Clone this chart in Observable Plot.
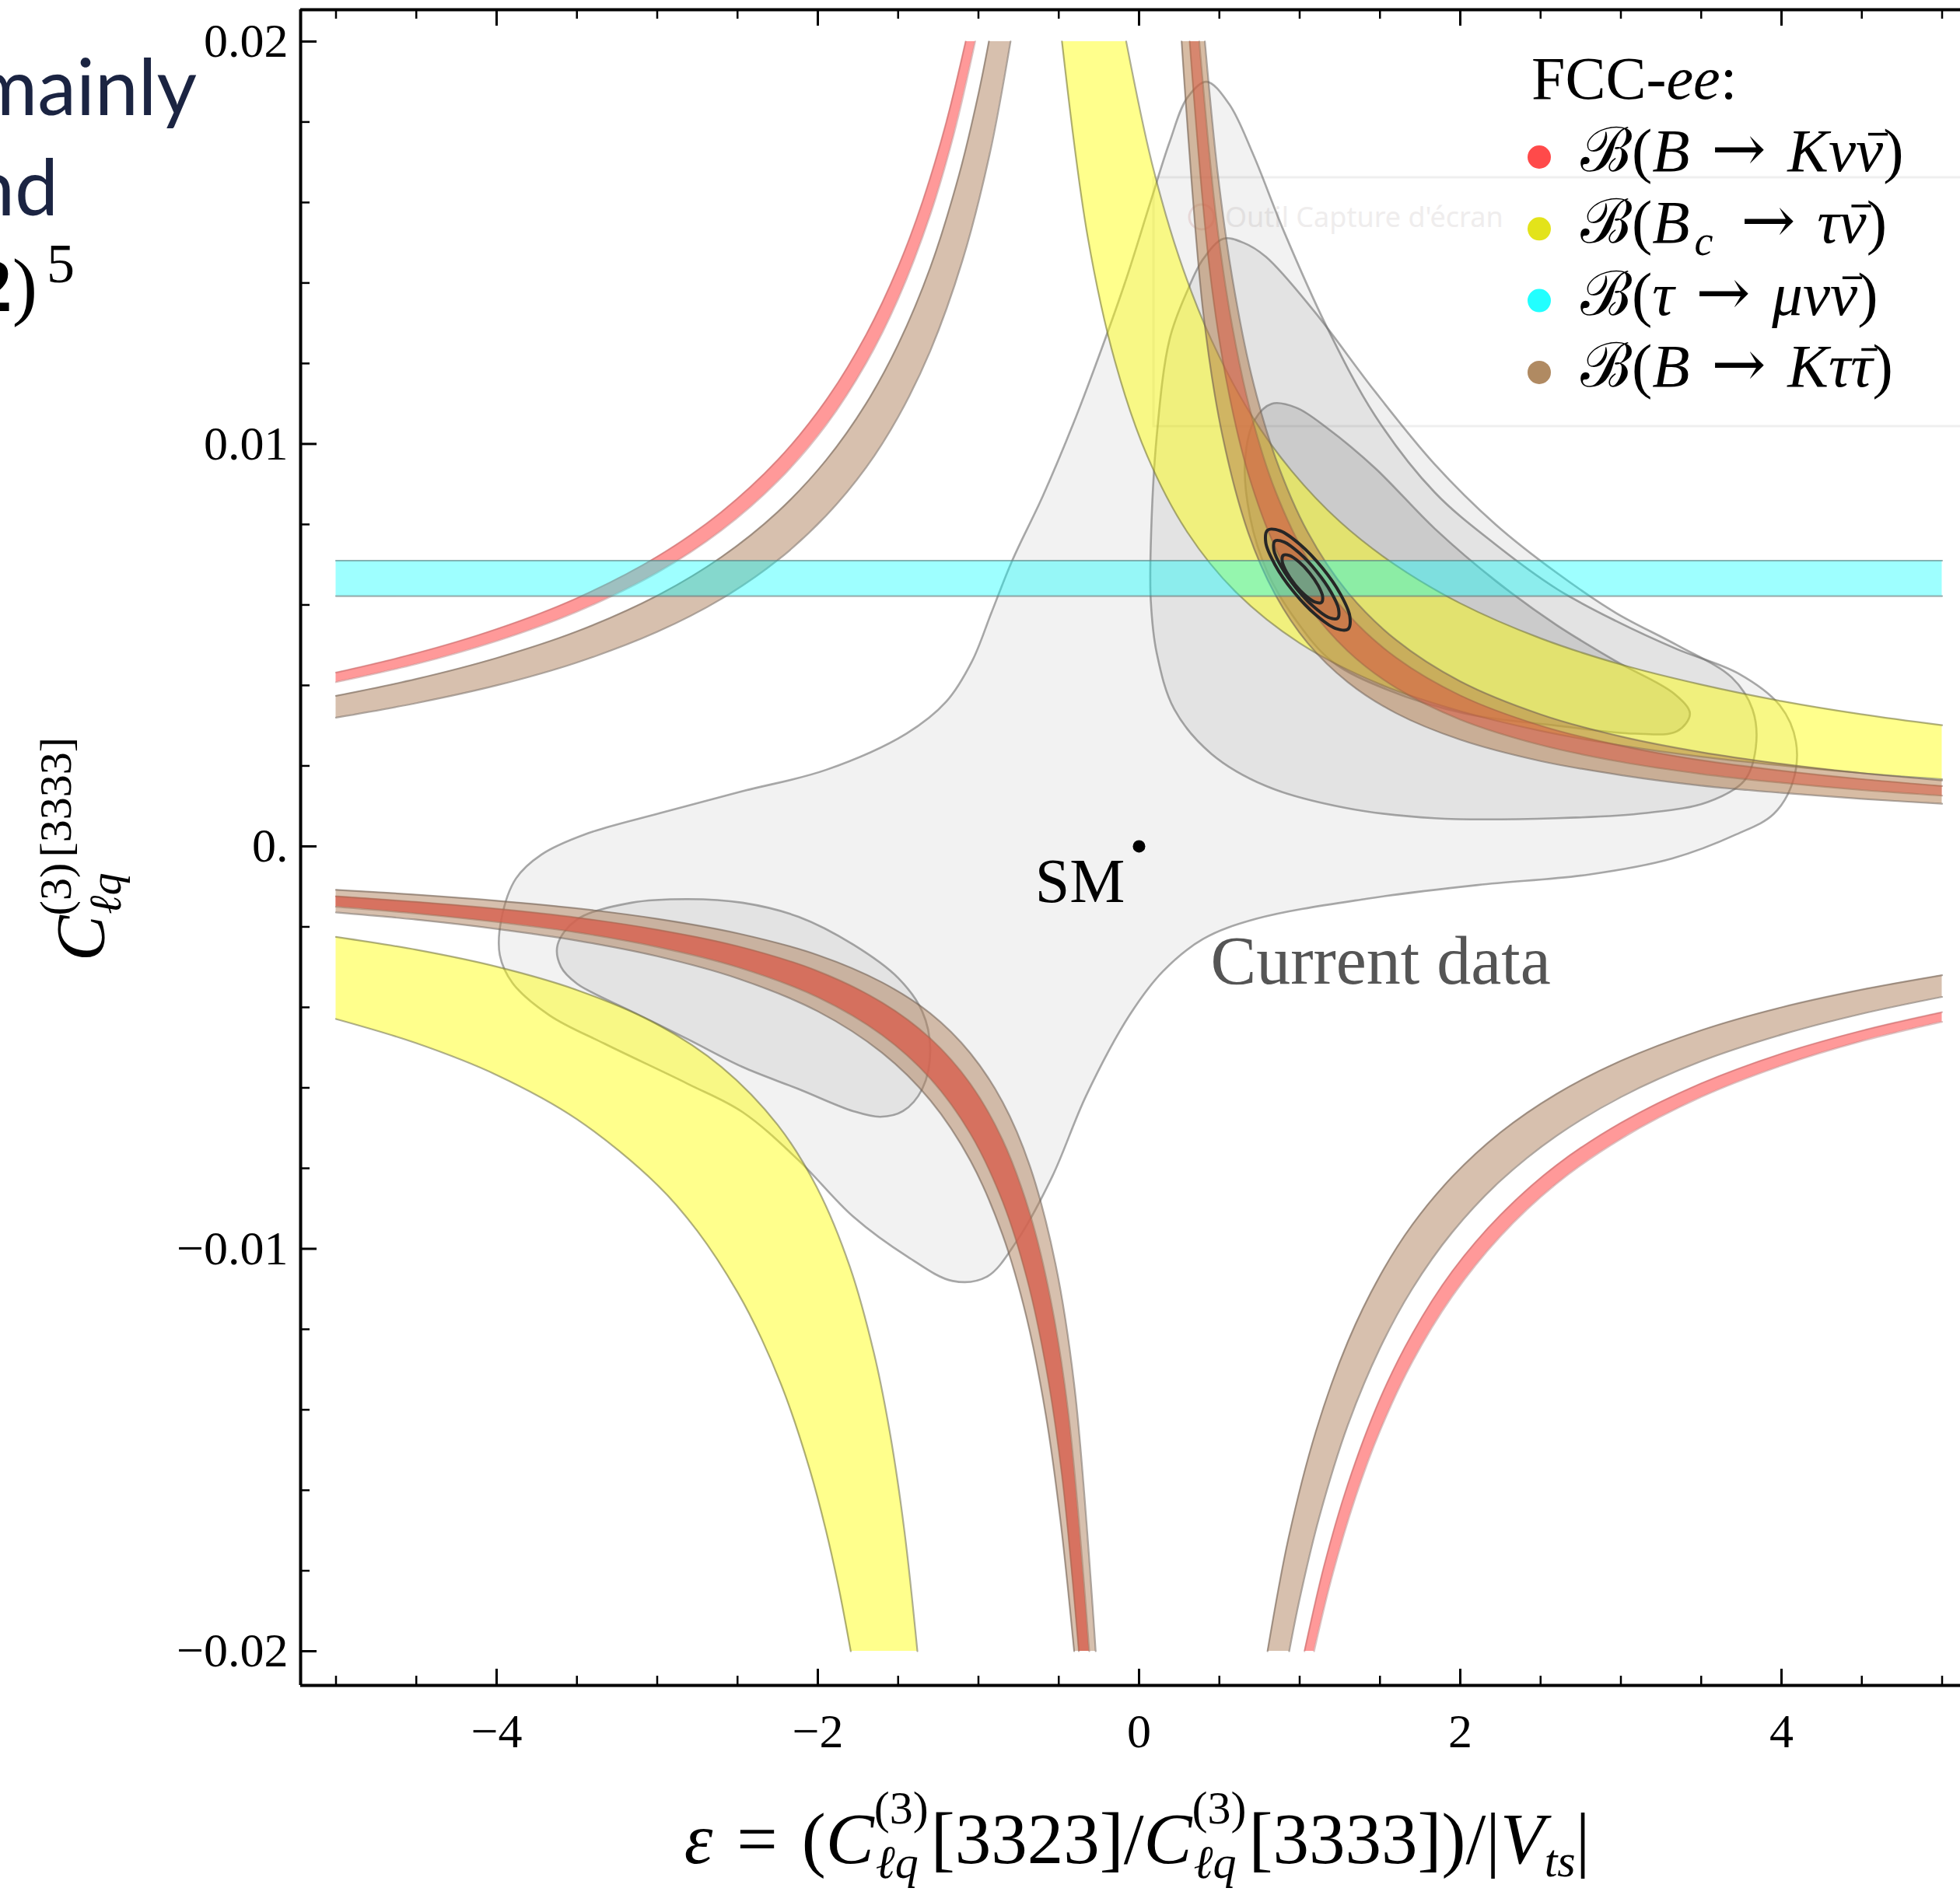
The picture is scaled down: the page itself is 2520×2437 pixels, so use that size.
<!DOCTYPE html>
<html><head><meta charset="utf-8">
<script src="https://cdn.jsdelivr.net/npm/d3@7"></script>
<script src="https://cdn.jsdelivr.net/npm/@observablehq/plot@0.6"></script>
<style>html,body{margin:0;padding:0;background:#fff;overflow:hidden}</style>
</head><body><div id="chart"></div>
<script>
// ---------- axes / ticks ----------
const frameX = [-5.2203, 5.1138];
const frameY = [-0.02085, 0.02079];
const xMajorTicks = [-4, -2, 0, 2, 4];
const xTickLabels = ["−4", "−2", "0", "2", "4"];
const xMinorTicks = [-5, -4.5, -3.5, -3, -2.5, -1.5, -1, -0.5, 0.5, 1, 1.5, 2.5, 3, 3.5, 4.5, 5];
const yMajorTicks = [-0.02, -0.01, 0, 0.01, 0.02];
const yTickLabels = ["−0.02", "−0.01", "0.", "0.01", "0.02"];
const yMinorTicks = [-0.018, -0.016, -0.014, -0.012, -0.008, -0.006, -0.004, -0.002, 0.002, 0.004, 0.006, 0.008, 0.012, 0.014, 0.016, 0.018];

// ---------- B -> K nu nubar (red) band edges ----------
const redUL_A = [[-5,0.00432],[-4.5,0.0048],[-4,0.0054],[-3.5,0.00617],[-3,0.0072],[-2.6,0.00831],[-2.25,0.0096],[-1.95,0.01108],[-1.7,0.01271],[-1.5,0.0144],[-1.35,0.016],[-1.2,0.018],[-1.08,0.02]];
const redUL_B = [[-5,0.00408],[-4.5,0.00453],[-4,0.0051],[-3.5,0.00583],[-3,0.0068],[-2.6,0.00785],[-2.25,0.00907],[-1.95,0.01046],[-1.7,0.012],[-1.5,0.0136],[-1.3,0.01569],[-1.15,0.01774],[-1.02,0.02]];
const redLR_A = [[5,-0.00436],[4.5,-0.00484],[4,-0.00545],[3.5,-0.00623],[3,-0.00727],[2.6,-0.00838],[2.25,-0.00969],[1.95,-0.01118],[1.7,-0.01282],[1.5,-0.01453],[1.35,-0.01615],[1.2,-0.01817],[1.09,-0.02]];
const redLR_B = [[5,-0.00412],[4.5,-0.00458],[4,-0.00515],[3.5,-0.00589],[3,-0.00687],[2.6,-0.00792],[2.25,-0.00916],[1.95,-0.01056],[1.7,-0.01212],[1.5,-0.01373],[1.3,-0.01585],[1.15,-0.01791],[1.03,-0.02]];
const redUR_A = [[5,0.0015],[4.5,0.00167],[4,0.00188],[3.5,0.00214],[3,0.0025],[2.5,0.003],[2,0.00375],[1.6,0.00469],[1.3,0.00577],[1.05,0.00714],[0.85,0.00882],[0.7,0.01071],[0.58,0.01293],[0.48,0.01563],[0.375,0.02]];
const redUR_B = [[5,0.00126],[4.5,0.0014],[4,0.00158],[3.5,0.0018],[3,0.0021],[2.5,0.00252],[2,0.00315],[1.6,0.00394],[1.3,0.00485],[1.05,0.006],[0.85,0.00741],[0.68,0.00926],[0.55,0.01145],[0.44,0.01432],[0.315,0.02]];
const redLL_A = [[-5,-0.0015],[-4.5,-0.00167],[-4,-0.00188],[-3.5,-0.00214],[-3,-0.0025],[-2.5,-0.003],[-2,-0.00375],[-1.6,-0.00469],[-1.3,-0.00577],[-1.05,-0.00714],[-0.85,-0.00882],[-0.7,-0.01071],[-0.58,-0.01293],[-0.48,-0.01563],[-0.375,-0.02]];
const redLL_B = [[-5,-0.00124],[-4.5,-0.00138],[-4,-0.00155],[-3.5,-0.00177],[-3,-0.00207],[-2.5,-0.00248],[-2,-0.0031],[-1.6,-0.00388],[-1.3,-0.00477],[-1.05,-0.0059],[-0.85,-0.00729],[-0.68,-0.00912],[-0.55,-0.01127],[-0.44,-0.01409],[-0.31,-0.02]];

// ---------- B -> K tau taubar (brown) band edges ----------
const brownUL_A = [[-5,0.00374],[-4.5,0.00416],[-4,0.00468],[-3.5,0.00534],[-3,0.00623],[-2.6,0.00719],[-2.25,0.00831],[-1.95,0.00959],[-1.7,0.011],[-1.5,0.01247],[-1.3,0.01438],[-1.12,0.0167],[-1.0,0.0187],[-0.935,0.02]];
const brownUL_B = [[-5,0.0032],[-4.5,0.00356],[-4,0.004],[-3.5,0.00457],[-3,0.00533],[-2.6,0.00615],[-2.25,0.00711],[-1.95,0.00821],[-1.7,0.00941],[-1.5,0.01067],[-1.3,0.01231],[-1.1,0.01455],[-0.93,0.0172],[-0.8,0.02]];
const brownLR_A = [[5,-0.00374],[4.5,-0.00416],[4,-0.00468],[3.5,-0.00534],[3,-0.00623],[2.6,-0.00719],[2.25,-0.00831],[1.95,-0.00959],[1.7,-0.011],[1.5,-0.01247],[1.3,-0.01438],[1.12,-0.0167],[1.0,-0.0187],[0.935,-0.02]];
const brownLR_B = [[5,-0.0032],[4.5,-0.00356],[4,-0.004],[3.5,-0.00457],[3,-0.00533],[2.6,-0.00615],[2.25,-0.00711],[1.95,-0.00821],[1.7,-0.00941],[1.5,-0.01067],[1.3,-0.01231],[1.1,-0.01455],[0.93,-0.0172],[0.8,-0.02]];
const brownUR_A = [[5,0.00164],[4.5,0.00182],[4,0.00205],[3.5,0.00234],[3,0.00273],[2.5,0.00328],[2,0.0041],[1.6,0.00513],[1.3,0.00631],[1.05,0.00781],[0.85,0.00965],[0.7,0.01171],[0.58,0.01414],[0.49,0.01673],[0.41,0.02]];
const brownUR_B = [[5,0.00106],[4.5,0.00118],[4,0.00133],[3.5,0.00151],[3,0.00177],[2.5,0.00212],[2,0.00265],[1.6,0.00331],[1.3,0.00408],[1.05,0.00505],[0.85,0.00624],[0.68,0.00779],[0.52,0.01019],[0.4,0.01325],[0.265,0.02]];
const brownLL_A = [[-5,-0.00164],[-4.5,-0.00182],[-4,-0.00205],[-3.5,-0.00234],[-3,-0.00273],[-2.5,-0.00328],[-2,-0.0041],[-1.6,-0.00513],[-1.3,-0.00631],[-1.05,-0.00781],[-0.85,-0.00965],[-0.7,-0.01171],[-0.58,-0.01414],[-0.49,-0.01673],[-0.404,-0.02]];
const brownLL_B = [[-5,-0.00108],[-4.5,-0.0012],[-4,-0.00135],[-3.5,-0.00154],[-3,-0.0018],[-2.5,-0.00216],[-2,-0.0027],[-1.6,-0.00338],[-1.3,-0.00415],[-1.05,-0.00514],[-0.85,-0.00635],[-0.68,-0.00794],[-0.52,-0.01038],[-0.4,-0.0135],[-0.27,-0.02]];

// ---------- B_c -> tau nubar (yellow) band edges ----------
const yellowUR_A = [[5,0.00301],[4.5,0.00328],[4,0.00361],[3.5,0.00402],[3,0.00452],[2.5,0.00517],[2,0.00604],[1.6,0.00698],[1.25,0.00807],[0.95,0.00933],[0.7,0.01071],[0.45,0.01259],[0.25,0.01463],[0.08,0.01698],[-0.08,0.02]];
const yellowUR_B = [[5,0.00167],[4.5,0.00182],[4,0.00201],[3.5,0.00223],[3,0.00251],[2.5,0.00287],[2,0.00336],[1.5,0.00403],[1.0,0.00505],[0.6,0.00633],[0.3,0.00781],[0.05,0.00971],[-0.15,0.01205],[-0.32,0.01515],[-0.48,0.02]];
const yellowLL_A = [[-5,-0.00225],[-4.5,-0.00257],[-4,-0.00299],[-3.5,-0.00357],[-3,-0.00442],[-2.6,-0.00548],[-2.25,-0.00692],[-2.0,-0.00852],[-1.8,-0.01045],[-1.65,-0.0126],[-1.55,-0.0146],[-1.46,-0.01704],[-1.38,-0.02]];
const yellowLL_B = [[-5,-0.00429],[-4.5,-0.00489],[-4,-0.00568],[-3.5,-0.00678],[-3,-0.00841],[-2.75,-0.00956],[-2.5,-0.01108],[-2.35,-0.01224],[-2.2,-0.01367],[-2.05,-0.01549],[-1.95,-0.01699],[-1.87,-0.01842],[-1.795,-0.02]];

// ---------- tau -> mu nu nubar (cyan) band ----------
const cyan_A = [[-5,0.0071],[5,0.0071]];
const cyan_B = [[-5,0.00622],[5,0.00622]];

// ---------- current data (gray) contours ----------
const currentOuter = [[0.42,0.019],[0.30,0.0186],[0.19,0.0175],[0.07,0.016],[-0.08,0.0141],[-0.23,0.0124],[-0.41,0.0105],[-0.60,0.0087],[-0.79,0.0071],[-0.92,0.0058],[-1.04,0.0046],[-1.20,0.0036],[-1.45,0.0028],[-1.95,0.0019],[-2.47,0.00137],[-2.98,0.00083],[-3.45,0.0003],[-3.72,-0.0002],[-3.88,-0.0008],[-3.97,-0.0018],[-3.98,-0.0027],[-3.90,-0.0034],[-3.67,-0.0042],[-3.33,-0.0049],[-2.81,-0.0059],[-2.47,-0.0066],[-2.12,-0.0078],[-1.78,-0.0092],[-1.44,-0.0102],[-1.16,-0.0108],[-0.95,-0.0107],[-0.76,-0.0098],[-0.54,-0.0082],[-0.33,-0.0062],[-0.06,-0.0042],[0.15,-0.0031],[0.40,-0.0023],[0.73,-0.0018],[1.42,-0.0013],[2.11,-0.00096],[2.80,-0.0007],[3.32,-0.0003],[3.72,0.0003],[3.95,0.0008],[4.07,0.0016],[4.09,0.0026],[3.99,0.0035],[3.73,0.0043],[3.35,0.0049],[2.97,0.0056],[2.60,0.0064],[2.22,0.0075],[1.84,0.0088],[1.47,0.0107],[1.17,0.0129],[0.90,0.0153],[0.71,0.0172],[0.56,0.01845]];
const currentMidUR = [[0.525,0.0151],[0.40,0.0146],[0.30,0.0138],[0.19,0.0126],[0.11,0.0102],[0.073,0.0075],[0.073,0.0061],[0.11,0.0048],[0.22,0.0034],[0.45,0.0023],[0.79,0.0015],[1.28,0.00096],[1.84,0.0007],[2.60,0.0007],[3.16,0.00083],[3.54,0.0011],[3.77,0.00164],[3.84,0.00245],[3.82,0.0034],[3.69,0.0042],[3.35,0.005],[2.97,0.0058],[2.60,0.0068],[2.22,0.008],[1.84,0.0095],[1.47,0.0113],[1.09,0.0133],[0.79,0.01465],[0.65,0.015]];
const currentMidLL = [[-3.62,-0.00244],[-3.50,-0.00182],[-3.16,-0.0014],[-2.81,-0.00131],[-2.47,-0.0014],[-2.12,-0.00175],[-1.78,-0.00244],[-1.50,-0.00327],[-1.35,-0.0041],[-1.30,-0.00506],[-1.35,-0.00603],[-1.47,-0.00658],[-1.61,-0.00672],[-1.78,-0.00658],[-2.12,-0.00603],[-2.47,-0.00548],[-2.81,-0.00479],[-3.16,-0.0041],[-3.50,-0.00341],[-3.60,-0.00299]];
const currentInnerUR = [[0.826,0.011],[0.72,0.0106],[0.66,0.0096],[0.69,0.0082],[0.80,0.0068],[0.98,0.0056],[1.20,0.0046],[1.54,0.0039],[2.03,0.0033],[2.60,0.003],[3.09,0.0028],[3.35,0.00286],[3.43,0.0033],[3.33,0.0038],[2.97,0.0046],[2.60,0.0055],[2.22,0.0066],[1.84,0.0079],[1.47,0.0094],[1.17,0.0104],[0.98,0.0109]];

// ---------- FCC-ee projected contours (black) ----------
const fccOuter = [[1.301,0.005398],[1.3126,0.005709],[1.254,0.006266],[1.141,0.00692],[1.0038,0.007496],[0.8792,0.007839],[0.8006,0.007858],[0.789,0.007547],[0.8476,0.00699],[0.9606,0.006336],[1.0978,0.00576],[1.2224,0.005417]];
const fccMid = [[1.2363,0.005668],[1.2421,0.005901],[1.194,0.006327],[1.1049,0.006835],[0.9986,0.007287],[0.9039,0.007563],[0.8457,0.007588],[0.8399,0.007355],[0.888,0.006929],[0.9771,0.006421],[1.0834,0.005969],[1.1781,0.005693]];
const fccInner = [[1.136,0.006062],[1.1427,0.006213],[1.1156,0.00648],[1.0621,0.006793],[0.9966,0.007066],[0.9365,0.007227],[0.898,0.007232],[0.8913,0.007081],[0.9184,0.006814],[0.9719,0.006501],[1.0374,0.006228],[1.0975,0.006067]];

// ---------- points & labels ----------
const smPoint = [[0, 0]];
const currentLabelPos = [[0.4455, -0.00342]];
const legendTitle = [{t: "FCC-"}, {t: "ee", i: 1}, {t: ":"}];
const legendColors = ["#ff4a4a", "#e3e31a", "#22ffff", "#b08a62"];
const ARROW = {t: "\u2004→\u2004", f: "'DejaVu Serif',serif", fs: 84};
// o: 1 marks a barred symbol (antiparticle)
const legendEntries = [
  [{t: "ℬ"}, {t: "("}, {t: "B", i: 1}, ARROW, {t: "Kν", i: 1}, {t: "ν", i: 1, o: 1}, {t: ")"}],
  [{t: "ℬ"}, {t: "("}, {t: "B", i: 1}, {t: "c", i: 1, fs: 54, dy: 16, dx: 6}, {...ARROW, dy: -16, dx: 8}, {t: "τ", i: 1}, {t: "ν", i: 1, o: 1}, {t: ")"}],
  [{t: "ℬ"}, {t: "("}, {t: "τ", i: 1}, ARROW, {t: "μν", i: 1}, {t: "ν", i: 1, o: 1}, {t: ")"}],
  [{t: "ℬ"}, {t: "("}, {t: "B", i: 1}, ARROW, {t: "Kτ", i: 1}, {t: "τ", i: 1, o: 1}, {t: ")"}]
];

const serif = "'Liberation Serif','Times New Roman','DejaVu Serif',serif";
const W = 2520, H = 2437, mL = 386, mR = 0, mT = 12, mB = 270;
const frameW = W - mL - mR, frameH = H - mT - mB;

const pair = (a, b) => a.map((p, i) => ({x1: p[0], y1: p[1], x2: b[i][0], y2: b[i][1]}));
function band(a, b, fill, fo, stroke, so) {
  return [
    Plot.area(pair(a, b), {x1: "x1", y1: "y1", x2: "x2", y2: "y2", fill, fillOpacity: fo, curve: "catmull-rom"}),
    Plot.line(a, {x: d => d[0], y: d => d[1], stroke, strokeOpacity: so, strokeWidth: 2.2, curve: "catmull-rom"}),
    Plot.line(b, {x: d => d[0], y: d => d[1], stroke, strokeOpacity: so, strokeWidth: 2.2, curve: "catmull-rom"})
  ];
}
const region = (pts, op) => Plot.line(pts, {x: d => d[0], y: d => d[1], curve: "catmull-rom-closed", fill: "#000", fillOpacity: op, stroke: "#6f6f6f", strokeOpacity: 0.6, strokeWidth: 2.6});
const fcc = (pts) => Plot.line(pts, {x: d => d[0], y: d => d[1], curve: "catmull-rom-closed", fill: "#000", fillOpacity: 0.03, stroke: "#262626", strokeWidth: 4});

const chart = Plot.plot({
  width: W, height: H,
  marginLeft: mL, marginRight: mR, marginTop: mT, marginBottom: mB,
  x: {domain: frameX},
  y: {domain: frameY},
  style: {fontFamily: serif, background: "white", color: "black"},
  marks: [
    region(currentOuter, 0.052),
    region(currentMidUR, 0.058),
    region(currentMidLL, 0.058),
    region(currentInnerUR, 0.10),
    band(yellowUR_A, yellowUR_B, "#ffff00", 0.45, "#6b6b40", 0.55),
    band(yellowLL_A, yellowLL_B, "#ffff00", 0.45, "#6b6b40", 0.55),
    band(redUL_A, redUL_B, "#ff3c3c", 0.52, "#a05050", 0.35),
    band(redLR_A, redLR_B, "#ff3c3c", 0.52, "#a05050", 0.35),
    band(redUR_A, redUR_B, "#ff3c3c", 0.55, "#7a4a40", 0.45),
    band(redLL_A, redLL_B, "#ff3c3c", 0.8, "#7a4a40", 0.45),
    band(brownUL_A, brownUL_B, "#b0825e", 0.5, "#6e5e54", 0.55),
    band(brownLR_A, brownLR_B, "#b0825e", 0.5, "#6e5e54", 0.55),
    band(brownUR_A, brownUR_B, "#b07a4a", 0.5, "#6e5e54", 0.55),
    band(brownLL_A, brownLL_B, "#b0825e", 0.5, "#6e5e54", 0.55),
    band(cyan_A, cyan_B, "#00ffff", 0.38, "#5f7f7f", 0.6),
    fcc(fccOuter), fcc(fccMid), fcc(fccInner),
    Plot.dot(smPoint, {x: d => d[0], y: d => d[1], r: 8, fill: "black", stroke: "none"}),
    Plot.text(smPoint, {x: d => d[0], y: d => d[1], text: () => "SM", dx: -18, dy: 72, textAnchor: "end", lineAnchor: "bottom", fontSize: 80, fill: "black"}),
    Plot.text(currentLabelPos, {x: d => d[0], y: d => d[1], text: () => "Current data", textAnchor: "start", lineAnchor: "bottom", fontSize: 88, fill: "#555"}),
    // frame
    Plot.ruleX([frameX[0]], {stroke: "black", strokeWidth: 4}),
    Plot.ruleY([frameY[0], frameY[1]], {stroke: "black", strokeWidth: 4}),
    // ticks (inward)
    Plot.ruleX(xMajorTicks, {insetTop: frameH - 21, stroke: "black", strokeWidth: 3}),
    Plot.ruleX(xMajorTicks, {insetBottom: frameH - 21, stroke: "black", strokeWidth: 3}),
    Plot.ruleX(xMinorTicks, {insetTop: frameH - 12, stroke: "black", strokeWidth: 2.5}),
    Plot.ruleX(xMinorTicks, {insetBottom: frameH - 12, stroke: "black", strokeWidth: 2.5}),
    Plot.ruleY(yMajorTicks, {insetRight: frameW - 21, stroke: "black", strokeWidth: 3}),
    Plot.ruleY(yMinorTicks, {insetRight: frameW - 12, stroke: "black", strokeWidth: 2.5}),
    Plot.axisX(xMajorTicks, {anchor: "bottom", tickSize: 0, tickPadding: 35, fontSize: 62, label: null, tickFormat: d => xTickLabels[xMajorTicks.indexOf(d)]}),
    Plot.axisY(yMajorTicks, {anchor: "left", tickSize: 0, tickPadding: 16, fontSize: 62, label: null, tickFormat: d => yTickLabels[yMajorTicks.indexOf(d)]})
  ]
});
document.getElementById("chart").appendChild(chart);

const svg = d3.select(chart);

// faint screen-capture overlay (under everything)
const under = svg.insert("g", ":first-child");
under.append("rect").attr("x", 0).attr("y", 0).attr("width", W).attr("height", H).attr("fill", "white");
under.append("path").attr("d", "M2520,228H1483V548H2520").attr("fill", "none").attr("stroke", "#efefef").attr("stroke-width", 3);
under.append("circle").attr("cx", 1545).attr("cy", 279).attr("r", 16).attr("fill", "none").attr("stroke", "#f4e4e4").attr("stroke-width", 3);
under.append("text").attr("x", 1575).attr("y", 292).attr("text-anchor", "start").attr("font-family", "'Noto Sans',sans-serif").attr("font-size", 36).attr("fill", "#efeded").text("Outil Capture d'écran");

function rich(x, y, size, segs, opts = {}) {
  const t = svg.append("text").attr("x", x).attr("y", y).attr("font-size", size)
    .attr("font-family", opts.family || serif).attr("fill", opts.fill || "#000")
    .attr("text-anchor", opts.anchor || "start").style("white-space", "pre");
  if (opts.transform) t.attr("transform", opts.transform);
  const barred = [];
  for (const s of segs) {
    const ts = t.append("tspan").text(s.t);
    if (s.i) ts.attr("font-style", "italic");
    if (s.b) ts.attr("font-weight", "bold");
    if (s.f) ts.attr("font-family", s.f);
    if (s.fs) ts.attr("font-size", s.fs);
    if (s.dx) ts.attr("dx", s.dx);
    if (s.dy) ts.attr("dy", s.dy);
    if (s.o) barred.push(ts.node());
  }
  // accent bars over barred symbols, placed from the rendered glyph extent
  for (const node of barred) {
    const e = node.getExtentOfChar(0);
    const by = y - 0.6 * size;
    svg.append("line")
      .attr("x1", e.x + 0.28 * e.width + 6).attr("x2", e.x + e.width + 6)
      .attr("y1", by).attr("y2", by)
      .attr("stroke", "#000").attr("stroke-width", 3.5);
  }
  return t;
}

// legend
rich(1969, 127, 78, legendTitle);
legendEntries.forEach((segs, k) => {
  const cy = 202 + k * 92.3;
  svg.append("circle").attr("cx", 1979).attr("cy", cy).attr("r", 15).attr("fill", legendColors[k]);
  rich(2032, cy + 18, 79, segs);
});

// x axis label
rich(1462, 2396, 93, [
  {t: "ε", i: 1}, {t: "\u2004=\u2004("}, {t: "C", i: 1},
  {t: "(3)", fs: 60, dy: -51}, {t: "ℓq", fs: 60, i: 1, dx: -68, dy: 70}, {t: "[3323]/", dx: 16, dy: -19},
  {t: "C", i: 1},
  {t: "(3)", fs: 60, dy: -51}, {t: "ℓq", fs: 60, i: 1, dx: -68, dy: 70}, {t: "[3333])/|", dx: 16, dy: -19},
  {t: "V", i: 1}, {t: "ts", fs: 60, i: 1, dy: 17}, {t: "|", dy: -17}
], {anchor: "middle"});

// y axis label
rich(0, 0, 88, [
  {t: "C", i: 1},
  {t: "(3)", fs: 58, dy: -42}, {t: "ℓq", fs: 58, i: 1, dx: -66, dy: 64}, {t: "[3333]", fs: 58, dx: 20, dy: -64}
], {anchor: "middle", transform: "translate(133,1092) rotate(-90)"});

// slide text fragments at the left
rich(253, 148, 100, [{t: "mainly"}], {anchor: "end", family: "Lato,'Open Sans',sans-serif", fill: "#1b2442"});
rich(75, 277, 100, [{t: "nd"}], {anchor: "end", family: "Lato,'Open Sans',sans-serif", fill: "#1b2442"});
rich(48, 400, 97, [{t: "2", b: 1}, {t: ")"}], {anchor: "end"});
rich(60, 363, 72, [{t: "5"}]);
</script></body></html>
